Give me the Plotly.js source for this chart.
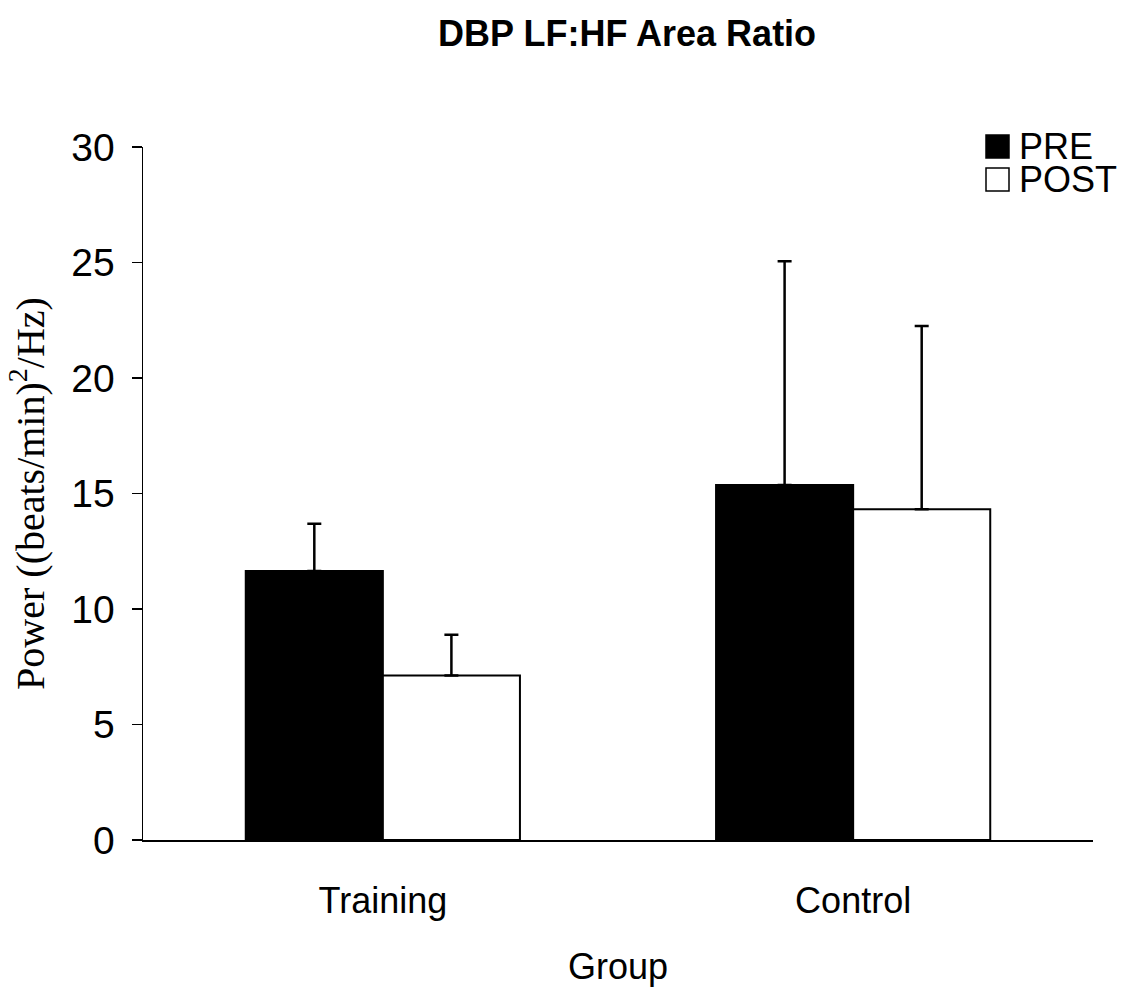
<!DOCTYPE html>
<html>
<head>
<meta charset="utf-8">
<script src="https://cdn.plot.ly/plotly-3.0.1.min.js"></script>
<style>html,body{margin:0;padding:0;background:#fff;}#chart{width:1134px;height:996px;}</style>
</head>
<body>
<div id="chart"></div>
<script>
var groups = ['Training', 'Control'];
var preValues = [11.65, 15.37];
var preErrors = [2.04, 9.68];
var postValues = [7.12, 14.32];
var postErrors = [1.76, 7.93];
var yTicks = [0, 5, 10, 15, 20, 25, 30];

var errStyle = {thickness: 2.5, width: 7, color: '#000'};

var traces = [
  {
    type: 'bar', name: 'PRE', x: groups, y: preValues,
    marker: {color: '#000', line: {color: '#000', width: 2}},
    error_y: Object.assign({type: 'data', symmetric: false, array: preErrors, arrayminus: [0, 0]}, errStyle)
  },
  {
    type: 'bar', name: 'POST', x: groups, y: postValues,
    marker: {color: '#fff', line: {color: '#000', width: 2}},
    error_y: Object.assign({type: 'data', symmetric: false, array: postErrors, arrayminus: [0, 0]}, errStyle)
  }
];

var layout = {
  width: 1134, height: 996,
  paper_bgcolor: '#fff', plot_bgcolor: '#fff',
  margin: {l: 143, r: 41, t: 147, b: 156},
  showlegend: false,
  barmode: 'group', bargap: 0.417, bargroupgap: 0,
  font: {family: 'Arial, Liberation Sans, sans-serif', color: '#000'},
  title: {text: 'DBP LF:HF Area Ratio', font: {size: 36, family: 'Arial, Liberation Sans, sans-serif', weight: 'bold'}, x: 0.553, xanchor: 'center', y: 0.966, yanchor: 'middle'},
  xaxis: {
    type: 'category', range: [-0.51, 1.51],
    showline: true, linecolor: '#000', linewidth: 2, ticks: '', showgrid: false, zeroline: false,
    tickfont: {size: 36}, ticklabelstandoff: 28,
    title: {text: 'Group', font: {size: 36}, standoff: 34}
  },
  yaxis: {
    range: [0, 30], tickvals: yTicks, ticktext: yTicks.map(String),
    showline: true, linecolor: '#000', linewidth: 1.5, ticks: 'outside', ticklen: 10, tickwidth: 1.5, tickcolor: '#000',
    showgrid: false, zeroline: false,
    tickfont: {size: 39}, ticklabelstandoff: 9,
    title: {text: 'Power ((beats/min)<sup>2</sup>/Hz)', font: {size: 40, family: 'Times New Roman, Liberation Serif, serif'}, standoff: 14}
  },
  shapes: [
    {type: 'rect', xref: 'paper', yref: 'paper', x0: (986-143)/950, x1: (1009-143)/950, y0: (840-158)/693, y1: (840-135)/693, fillcolor: '#000', line: {color: '#000', width: 1.5}},
    {type: 'rect', xref: 'paper', yref: 'paper', x0: (986-143)/950, x1: (1009-143)/950, y0: (840-191)/693, y1: (840-168)/693, fillcolor: '#fff', line: {color: '#000', width: 1.5}}
  ],
  annotations: [
    {text: 'PRE', xref: 'paper', yref: 'paper', x: (1018-143)/950, y: (840-146)/693, xanchor: 'left', yanchor: 'middle', showarrow: false, font: {size: 36}, borderpad: 0},
    {text: 'POST', xref: 'paper', yref: 'paper', x: (1018-143)/950, y: (840-179)/693, xanchor: 'left', yanchor: 'middle', showarrow: false, font: {size: 36}, borderpad: 0}
  ]
};

Plotly.newPlot('chart', traces, layout, {displayModeBar: false, staticPlot: true});
</script>
</body>
</html>
